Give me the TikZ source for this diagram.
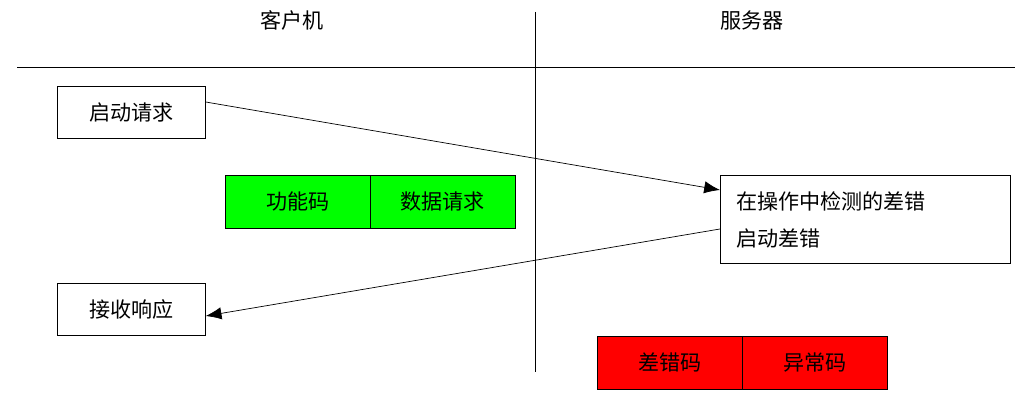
\documentclass[tikz,border=0pt]{standalone}
\usepackage{fontspec}
\newfontfamily\cjk{Noto Sans CJK SC}
\usetikzlibrary{arrows.meta}
\begin{document}
\begin{tikzpicture}[x=0.02cm,y=-0.02cm,font=\cjk\fontsize{12}{17}\selectfont]
		\tikzstyle{box}=[draw=black, rectangle, inner sep=0pt, anchor=north west]
		\useasboundingbox (0,0) rectangle (1024,401);
		
		% Headings
		\node (client) at (292,20) {客户机};
		\node (server) at (752,20) {服务器};
		\draw (17,67) -- (1015,67);
		\draw (535,12) -- (535,372);
		
		% Client
		\node[box, minimum width=2.96cm, minimum height=1.04cm] (req) at (57,86) {启动请求};
		\node[box, minimum width=2.96cm, minimum height=1.04cm] (resp) at (57,283) {接收响应};
		\node[box, fill=green, minimum width=2.9cm, minimum height=1.06cm] (func) at (225,175) {功能码};
		\node[box, fill=green, minimum width=2.9cm, minimum height=1.06cm] (data) at (370,175) {数据请求};
		
		% Server
		\node[box, minimum width=5.8cm, minimum height=1.76cm] (err) at (720,175) {};
		\node[anchor=west] (l1) at (730,201) {在操作中检测的差错};
		\node[anchor=west] (l2) at (730,238) {启动差错};
		\node[box, fill=red, minimum width=2.9cm, minimum height=1.06cm] (ecode) at (597,336) {差错码};
		\node[box, fill=red, minimum width=2.9cm, minimum height=1.06cm] (xcode) at (742,336) {异常码};
		
		% Arrows
		\draw[-{Latex[length=9pt,width=7pt]}] (req.east |- 0,102) -- (err.west |- 0,190);
		\draw[-{Latex[length=9pt,width=7pt]}] (err.west |- 0,229) -- (resp.east |- 0,316);
\end{tikzpicture}
\end{document}
